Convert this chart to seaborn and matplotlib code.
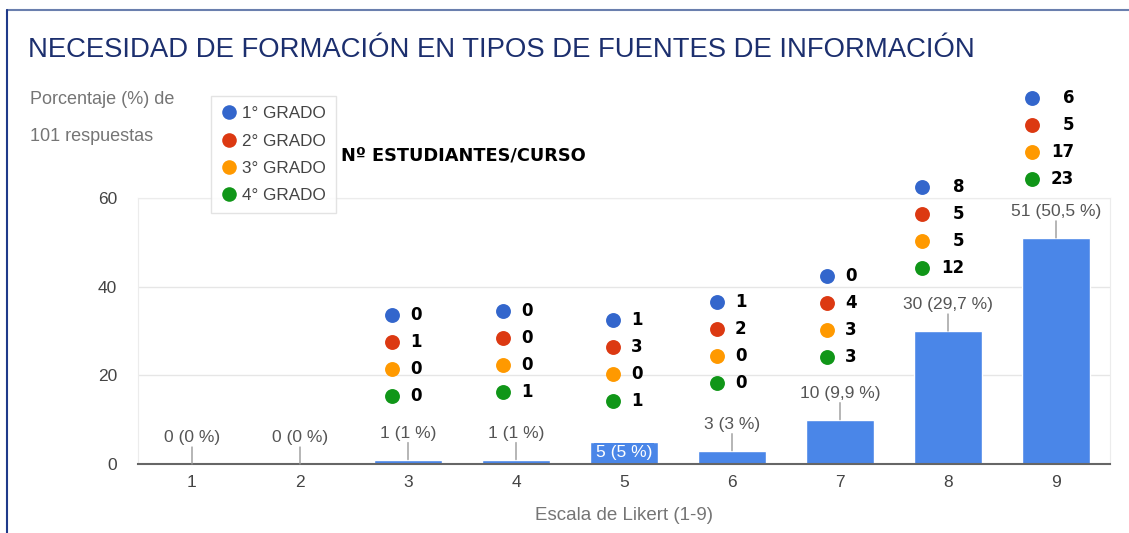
import matplotlib.pyplot as plt
import seaborn as sns
import numpy as np
import pandas as pd
from matplotlib.lines import Line2D
from matplotlib.transforms import offset_copy

# data
escala = ['1', '2', '3', '4', '5', '6', '7', '8', '9']
respuestas = [0, 0, 1, 1, 5, 3, 10, 30, 51]
etiquetas = ['0 (0 %)', '0 (0 %)', '1 (1 %)', '1 (1 %)', '5 (5 %)', '3 (3 %)',
             '10 (9,9 %)', '30 (29,7 %)', '51 (50,5 %)']
grados = ['1° GRADO', '2° GRADO', '3° GRADO', '4° GRADO']
grado_1 = [None, None, 0, 0, 1, 1, 0, 8, 6]
grado_2 = [None, None, 1, 0, 3, 2, 4, 5, 5]
grado_3 = [None, None, 0, 0, 0, 0, 3, 5, 17]
grado_4 = [None, None, 0, 1, 1, 0, 3, 12, 23]

colores = ['#3366cc', '#dc3912', '#ff9900', '#109618']
bar_color = '#4a86e8'
gris = '#757575'

df = pd.DataFrame({'escala': escala, 'respuestas': respuestas})

sns.set_style('white')
plt.rcParams['font.family'] = ['Liberation Sans', 'DejaVu Sans']

fig = plt.figure(figsize=(11.29, 5.33), dpi=100)
ax = fig.add_axes([138 / 1129, 1 - 464 / 533, 972 / 1129, 266 / 533])

sns.barplot(data=df, x='escala', y='respuestas', color=bar_color,
            saturation=1, width=0.63, ax=ax)

ax.set_xlim(-0.5, len(escala) - 0.5)
ax.set_ylim(0, 60)
ax.set_yticks([0, 20, 40, 60])
ax.yaxis.grid(True, color='#e6e6e6', lw=1)
ax.set_axisbelow(True)
for s in ['left', 'right', 'top']:
    ax.spines[s].set_color('#ececec')
ax.spines['bottom'].set_color('#666666')
ax.spines['bottom'].set_linewidth(1.5)
ax.tick_params(axis='both', length=0, labelsize=12.5, labelcolor='#444444')
ax.tick_params(axis='y', pad=15)
ax.tick_params(axis='x', pad=8)
ax.set_ylabel('')
ax.set_xlabel('Escala de Likert (1-9)', fontsize=13.5, color=gris, labelpad=12)

# value labels with connector lines
for i, (v, lab) in enumerate(zip(respuestas, etiquetas)):
    if i == 4:
        ax.annotate(lab, (i, 0), xytext=(0, 11), textcoords='offset pixels',
                    ha='center', va='center', fontsize=12.5, color='white',
                    bbox=dict(boxstyle='square,pad=0.12', fc=bar_color, ec='none'))
        continue
    ax.annotate('', (i, v), xytext=(0, 17), textcoords='offset pixels',
                arrowprops=dict(arrowstyle='-', color='#999999', lw=1,
                                shrinkA=0, shrinkB=0))
    ax.annotate(lab, (i, v), xytext=(0, 19), textcoords='offset pixels',
                ha='center', va='bottom', fontsize=12.5, color='#555555')

# student counts per grade
subida = [0, 0, 145, 149, 122, 149, 144, 144, 140]
dx_punto = [0, 0, -16, -13, -11, -15, -13, -26, -24]
series = [grado_1, grado_2, grado_3, grado_4]
for i in range(len(escala)):
    if grado_1[i] is None:
        continue
    for k, serie in enumerate(series):
        dy = subida[i] - 27 * k
        tr = offset_copy(ax.transData, fig=fig, x=dx_punto[i], y=dy, units='dots')
        ax.scatter([i], [respuestas[i]], s=115, color=colores[k], transform=tr,
                   clip_on=False, zorder=5, linewidths=0)
        if i >= 7:
            ax.annotate(str(serie[i]), (i, respuestas[i]),
                        xytext=(dx_punto[i] + 42, dy), textcoords='offset pixels',
                        ha='right', va='center', fontsize=12, fontweight='bold',
                        family='DejaVu Sans', color='black', annotation_clip=False)
        else:
            ax.annotate(str(serie[i]), (i, respuestas[i]),
                        xytext=(dx_punto[i] + 18, dy), textcoords='offset pixels',
                        ha='left', va='center', fontsize=12, fontweight='bold',
                        family='DejaVu Sans', color='black', annotation_clip=False)

# legend
handles = [Line2D([], [], marker='o', ls='', color=c, markersize=10.5,
                  markeredgewidth=0) for c in colores]
leg = fig.legend(handles, grados, loc='upper left',
                 bbox_to_anchor=(211 / 1129, 1 - 96 / 533), fontsize=12.3,
                 frameon=True, fancybox=False, edgecolor='#dddddd',
                 handletextpad=0.3, labelspacing=0.72, borderpad=0.6,
                 handlelength=0.9, borderaxespad=0)
for t in leg.get_texts():
    t.set_color('#444444')

# texts
fig.text(28 / 1129, 1 - 50 / 533, 'NECESIDAD DE FORMACIÓN EN TIPOS DE FUENTES DE INFORMACIÓN',
         fontsize=19.8, color='#1c2f6e', va='center', ha='left')
fig.text(30 / 1129, 1 - 100 / 533, 'Porcentaje (%) de', fontsize=13,
         color=gris, va='center')
fig.text(30 / 1129, 1 - 137 / 533, '101 respuestas', fontsize=13,
         color=gris, va='center')
fig.text(341 / 1129, 1 - 155 / 533, 'Nº ESTUDIANTES/CURSO', fontsize=12.8,
         fontweight='bold', family='DejaVu Sans', color='black', va='center')

# frame lines
fig.add_artist(Line2D([7 / 1129, 1], [1 - 10 / 533, 1 - 10 / 533],
                      transform=fig.transFigure, color='#6a7fae', lw=1.5))
fig.add_artist(Line2D([7 / 1129, 7 / 1129], [0, 1 - 10 / 533],
                      transform=fig.transFigure, color='#1f3a8a', lw=1.5))

fig.savefig('out.png', dpi=100)
